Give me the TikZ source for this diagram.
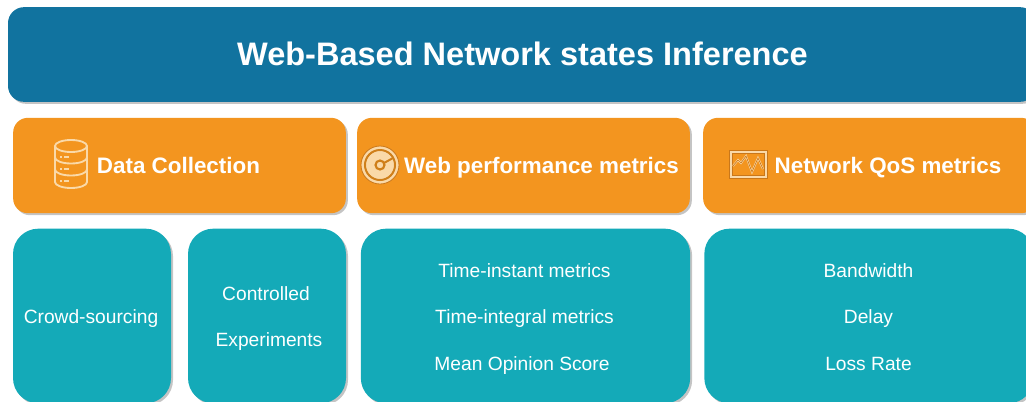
\documentclass[tikz,border=0pt]{standalone}
\usepackage{fontspec}
\usepackage{xcolor}
\usetikzlibrary{shadows}
\setmainfont{Liberation Sans}
\definecolor{titleblue}{HTML}{11739F}
\definecolor{headorange}{HTML}{F3951F}
\definecolor{itemteal}{HTML}{14AAB8}
\definecolor{shadowgrey}{HTML}{C4C4C4}
\definecolor{iconlight}{HTML}{FAD9A8}
\definecolor{icondark}{HTML}{C9771A}
\tikzset{
  panel/.style={inner sep=0pt,drop shadow={shadow xshift=1.5pt,shadow yshift=-1.5pt,fill=shadowgrey,opacity=1}},
  titlebox/.style={panel,fill=titleblue,rounded corners=12pt,minimum width=771pt,minimum height=71pt},
  headbox/.style={panel,fill=headorange,rounded corners=11pt,minimum height=71.5pt},
  itembox/.style={panel,fill=itemteal,rounded corners=19pt,minimum height=131pt},
  headtext/.style={text=white,anchor=base,font=\bfseries\fontsize{16.8}{20}\selectfont,inner sep=0pt},
  itemtext/.style={text=white,anchor=base,font=\fontsize{14.4}{17}\selectfont,inner sep=0pt}
}
\begin{document}
\begin{tikzpicture}[x=0.75pt,y=-0.75pt]
        \clip (0,0) rectangle (1026,401);
        % Title
        \node[titlebox] (title) at (522,54.5) {};
        \node[text=white,anchor=base,inner sep=0pt,font=\bfseries\fontsize{24.4}{28}\selectfont] (titletext) at (522.5,65) {Web-Based Network states Inference};
        % Headers
        \node[headbox,minimum width=249.5pt] (datahead) at (179.5,165.5) {};
        \node[headbox,minimum width=249.5pt] (webhead) at (523.5,165.5) {};
        \node[headbox,minimum width=249.5pt] (qoshead) at (869.5,165.5) {};
        \node[headtext] (datatext) at (178.5,173) {Data Collection};
        \node[headtext] (webtext) at (541.5,173) {Web performance metrics};
        \node[headtext] (qostext) at (888,173) {Network QoS metrics};
        % Database icon
        \begin{scope}[iconlight,line width=1.4pt]
          \draw (55,146) -- (55,182) arc[start angle=180,end angle=0,x radius=16,y radius=6] -- (87,146);
          \draw (71,146) ellipse (16 and 6);
          \draw (55,157.5) arc[start angle=180,end angle=0,x radius=16,y radius=6];
          \draw (55,169.5) arc[start angle=180,end angle=0,x radius=16,y radius=6];
          \foreach \y in {157,169,181}{
            \draw (60,\y) -- (61.5,\y);
            \draw (64,\y) -- (69,\y);
          }
        \end{scope}
        % Gauge icon
        \fill[iconlight,draw=icondark,line width=0.6pt] (380,165) circle (19);
        \draw[headorange!85!black,line width=1.5pt] (380,165) circle (15);
        \fill[iconlight] (380,165) circle (13.5);
        \draw[headorange!85!black,line width=1.6pt] (380,165) circle (4.5);
        \draw[headorange!85!black,line width=1.5pt] (384,163) -- (393,158);
        \fill[iconlight] (380,165) circle (2.5);
        % Chart icon
        \fill[iconlight,draw=icondark,line width=0.5pt] (729,150) rectangle (767,178);
        \fill[headorange,draw=icondark,line width=0.6pt] (732,153) rectangle (764,175);
        \draw[iconlight,line width=1.4pt] (733,166) -- (738,160) -- (741,163) -- (746,156) -- (752,172) -- (758,158) -- (763,169);
        \draw[icondark,line width=0.5pt] (733,166) -- (738,160) -- (741,163) -- (746,156) -- (752,172) -- (758,158) -- (763,169);
        % Item boxes
        \node[itembox,minimum width=118.5pt] (crowdbox) at (92,316) {};
        \node[itembox,minimum width=118.5pt] (ctrlbox) at (267,316) {};
        \node[itembox,minimum width=247pt] (webbox) at (525.5,316) {};
        \node[itembox,minimum width=247pt] (qosbox) at (869,316) {};
        \node[itemtext] (crowd) at (91,323) {Crowd-sourcing};
        \node[itemtext] (ctrlone) at (266,300) {Controlled};
        \node[itemtext] (ctrltwo) at (269,346) {Experiments};
        \node[itemtext] (instant) at (524.5,277) {Time-instant metrics};
        \node[itemtext] (integral) at (524.5,323) {Time-integral metrics};
        \node[itemtext] (mos) at (522,370) {Mean Opinion Score};
        \node[itemtext] (band) at (868.5,277) {Bandwidth};
        \node[itemtext] (delay) at (868.5,323) {Delay};
        \node[itemtext] (loss) at (868.5,370) {Loss Rate};
    \end{tikzpicture}
\end{document}
